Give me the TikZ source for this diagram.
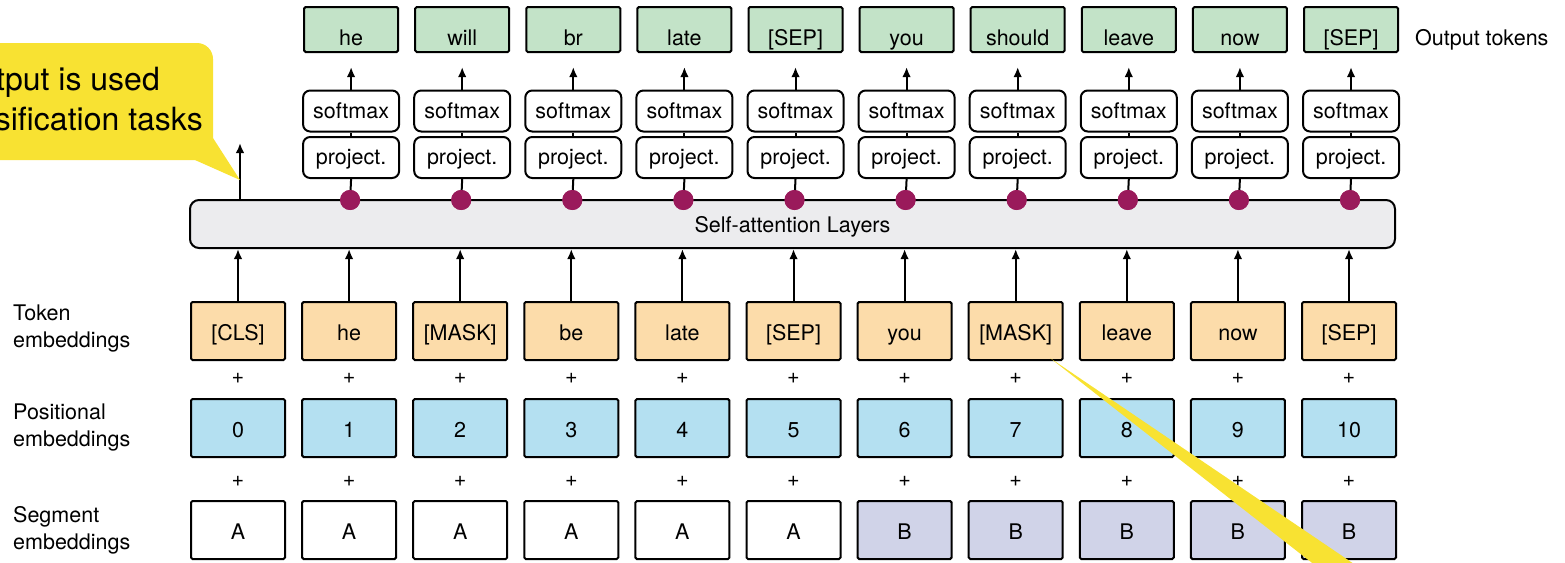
\documentclass[tikz,border=0pt]{standalone}
\usepackage{fontspec}
\setmainfont{TeX Gyre Heros}
\usetikzlibrary{arrows.meta}
\definecolor{tokfill}{HTML}{FCDCAA}
\definecolor{posfill}{HTML}{B4E0F1}
\definecolor{segfill}{HTML}{D0D3E8}
\definecolor{outfill}{HTML}{C3E3C8}
\definecolor{safill}{HTML}{ECECEE}
\definecolor{callout}{HTML}{F8E232}
\definecolor{dotcol}{HTML}{9A1A5B}
\tikzset{
  lbl/.style={font=\fontsize{21.5}{27}\selectfont},
  cell/.style={lbl, draw, line width=2pt, rounded corners=1.5pt, inner sep=0pt,
    minimum width=94pt, minimum height=58pt, text height=18pt, text depth=0pt},
  tokbox/.style={cell, fill=tokfill},
  posbox/.style={cell, fill=posfill},
  segbox/.style={cell, fill=white},
  segboxB/.style={cell, fill=segfill},
  outbox/.style={cell, fill=outfill, minimum height=45pt, text height=31pt},
  opbox/.style={lbl, draw, line width=2pt, rounded corners=7pt, fill=white, inner sep=0pt,
    minimum width=96pt, minimum height=41pt, text height=14.5pt, text depth=0pt},
  sabox/.style={lbl, draw, line width=2pt, rounded corners=9pt, fill=safill,
    minimum width=1205pt, minimum height=48pt, inner sep=0pt, text height=16pt, text depth=0pt},
  hdot/.style={circle, fill=dotcol, minimum size=20pt, inner sep=0pt},
  link/.style={line width=2pt},
  flow/.style={line width=2pt, -{Latex[length=10pt,width=8.5pt]}},
  plus/.style={lbl, inner sep=0pt},
  rowlbl/.style={lbl, anchor=west, align=left, inner sep=0pt},
  bubble/.style={fill=callout},
}
\begin{document}
\begin{tikzpicture}[x=1pt,y=-1pt]
\useasboundingbox (0,0) rectangle (1565,562);
\clip (0,0) rectangle (1565,562);

% row labels
\node[rowlbl] (ltok) at (13,329) {Token\\embeddings};
\node[rowlbl] (lpos) at (13,427) {Positional\\embeddings};
\node[rowlbl] (lseg) at (13,530) {Segment\\embeddings};
\node[lbl, anchor=base west, inner sep=0pt] (lout) at (1415,45) {Output tokens};

% transformer block
\node[sabox] (sa) at (792.5,224) {Self-attention Layers};

% input columns: token + position + segment
\foreach \i/\tok/\seg in {0/[CLS]/segbox, 1/he/segbox, 2/[MASK]/segbox, 3/be/segbox,
    4/late/segbox, 5/[SEP]/segbox, 6/you/segboxB, 7/[MASK]/segboxB, 8/leave/segboxB,
    9/now/segboxB, 10/[SEP]/segboxB} {
  \pgfmathsetmacro{\cx}{238+111.1*\i}
  \node[tokbox] (t\i) at (\cx,331) {\tok};
  \node[posbox] (p\i) at (\cx,428) {\i};
  \node[\seg] (s\i) at (\cx,530) {\ifnum\i<6 A\else B\fi};
  \node[plus] (pa\i) at (\cx,378) {+};
  \node[plus] (pb\i) at (\cx,481) {+};
  \draw[flow] (t\i.north) -- (t\i.north |- sa.south);
}

% output columns
\foreach \i/\out in {1/he, 2/will, 3/br, 4/late, 5/[SEP], 6/you, 7/should,
    8/leave, 9/now, 10/[SEP]} {
  \pgfmathsetmacro{\cx}{238+111.1*\i}
  \node[hdot] (d\i) at (\cx+1,200) {};
  \node[opbox] (pr\i) at (\cx+2,157.5) {project.};
  \node[opbox] (sm\i) at (\cx+2,111) {softmax};
  \node[outbox] (o\i) at (\cx+2,29.5) {\out};
  \coordinate (oa\i) at (\cx+2,67);
  \draw[link] (d\i.center) -- (pr\i.south);
  \draw[link] (pr\i.north) -- (sm\i.south);
  \draw[flow] (sm\i.north) -- (oa\i);
}
% dots sit on top of the block edge
\foreach \i in {1,...,10} { \fill[dotcol] (d\i) circle (10pt); }

% [CLS] output arrow
\coordinate (clsout) at (240,143);
\draw[flow] (240,200) -- (clsout);

% callout for the [CLS] output
\fill[bubble, rounded corners=16pt] (-30,43) rectangle (213,160);
\fill[bubble] (213,138) -- (240,180) -- (195,160) -- cycle;
\node[anchor=base east, inner sep=0pt, font=\fontsize{32}{38}\selectfont] (c1) at (160,90) {tput is used};
\node[anchor=base east, inner sep=0pt, font=\fontsize{32}{38}\selectfont] (c2) at (203,130) {sification tasks};

% pointer of a second callout
\fill[bubble] (1050,358) -- (1316,566) -- (1357,566) -- cycle;
\end{tikzpicture}
\end{document}
